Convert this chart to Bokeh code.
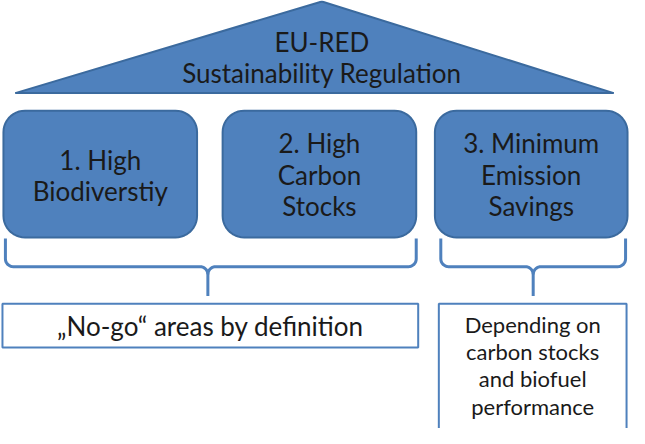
import numpy as np
from bokeh.plotting import figure
from bokeh.models import Range1d
from bokeh.core.properties import value
from bokeh.embed import file_html
from bokeh.resources import INLINE

# ---- content ----
header_lines = ["EU-RED", "Sustainability Regulation"]
pillar_labels = [["1. High", "Biodiverstiy"],
                 ["2. High", "Carbon", "Stocks"],
                 ["3. Minimum", "Emission", "Savings"]]
outcome_labels = [["\u201eNo-go\u201c areas by definition"],
                  ["Depending on", "carbon stocks", "and biofuel", "performance"]]

# ---- layout geometry (reference pixel space) ----
roof = dict(left=18, right=627, apex_x=330, apex_y=3, base_y=97)
header_y = [45, 76]
pillar_x0 = [6, 229, 445]
pillar_x1 = [203, 426, 641]
pillar_y0, pillar_y1 = 115, 245
pillar_line_y = [[166, 197], [148, 181, 213], [148, 181, 213]]
brace_x0 = [8, 451]
brace_x1 = [426, 639]
brace_mid = [214, 545]
brace_top, brace_h, brace_tip = 246, 275, 305
out_x0 = [5, 449]
out_x1 = [428, 640]
out_y0 = [313, 313]
out_y1 = [358, 446]
out_line_y = [[336], [334, 362, 390, 418]]

BLUE = "#4F81BD"
BLUE_DARK = "#3B6A9E"
TEXT = "#1A1A1A"
FONT = value("Lato")

W, H = 629, 428
p = figure(width=W, height=H, output_backend="svg", toolbar_location=None,
           x_range=Range1d(3, 643), y_range=Range1d(441, 2), min_border=0)
p.axis.visible = False
p.grid.visible = False
p.outline_line_color = None
p.background_fill_color = "white"
p.border_fill_color = "white"


def rounded_rect(x0, y0, x1, y1, r, n=12):
    xs, ys = [], []
    corners = [(x1 - r, y0 + r, -np.pi / 2, 0), (x1 - r, y1 - r, 0, np.pi / 2),
               (x0 + r, y1 - r, np.pi / 2, np.pi), (x0 + r, y0 + r, np.pi, 1.5 * np.pi)]
    for cx, cy, a0, a1 in corners:
        t = np.linspace(a0, a1, n)
        xs.extend(cx + r * np.cos(t))
        ys.extend(cy + r * np.sin(t))
    return xs, ys


# roof
p.patch([roof["left"], roof["apex_x"], roof["right"]],
        [roof["base_y"], roof["apex_y"], roof["base_y"]],
        fill_color=BLUE, line_color=BLUE_DARK, line_width=2)
p.text(x=[roof["apex_x"]] * 2, y=header_y, text=header_lines, text_align="center",
       text_baseline="middle", text_font=FONT, text_font_size="26px", text_color=TEXT)

# pillars
for x0, x1, lines, ly in zip(pillar_x0, pillar_x1, pillar_labels, pillar_line_y):
    xs, ys = rounded_rect(x0, pillar_y0, x1, pillar_y1, 22)
    p.patch(xs, ys, fill_color=BLUE, line_color=BLUE_DARK, line_width=2)
    cx = (x0 + x1) / 2
    p.text(x=[cx] * len(lines), y=ly, text=lines, text_align="center",
           text_baseline="middle", text_font=FONT, text_font_size="26px", text_color=TEXT)


def brace(x0, x1, xm, yt, yh, ytip, r=8, n=10):
    t = np.linspace(0, np.pi / 2, n)
    xs = [x0, x0]
    ys = [yt, yh - r]
    xs += list(x0 + r - r * np.cos(t))
    ys += list(yh - r + r * np.sin(t))
    xs += [xm - r]
    ys += [yh]
    xs += list(xm - r + r * np.sin(t))
    ys += list(yh + r - r * np.cos(t))
    xs += [xm]
    ys += [ytip]
    xr = [x1, x1]
    yr = [yt, yh - r]
    xr += list(x1 - r + r * np.cos(t))
    yr += list(yh - r + r * np.sin(t))
    xr += [xm + r]
    yr += [yh]
    xr += list(xm + r - r * np.sin(t))
    yr += list(yh + r - r * np.cos(t))
    return [xs, xr], [ys, yr]


for x0, x1, xm in zip(brace_x0, brace_x1, brace_mid):
    bx, by = brace(x0, x1, xm, brace_top, brace_h, brace_tip)
    p.multi_line(bx, by, line_color=BLUE, line_width=3, line_join="round", line_cap="butt")

# outcome boxes
sizes = ["26px", "22px"]
for x0, x1, y0, y1, lines, ly, fs in zip(out_x0, out_x1, out_y0, out_y1,
                                          outcome_labels, out_line_y, sizes):
    p.quad(left=x0, right=x1, top=y0, bottom=y1, fill_color="white",
           line_color=BLUE, line_width=2)
    cx = (x0 + x1) / 2
    p.text(x=[cx] * len(lines), y=ly, text=lines, text_align="center",
           text_baseline="middle", text_font=FONT, text_font_size=fs, text_color=TEXT)

open("out.html", "w").write(file_html(p, INLINE))
